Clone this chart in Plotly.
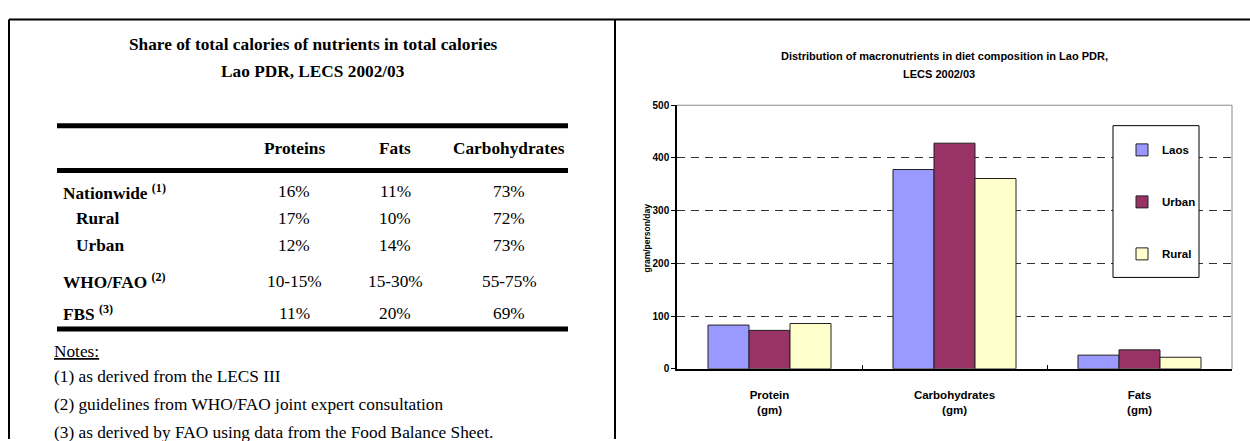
import plotly.graph_objects as go

# ---------------- data ----------------
table_title = ["Share of total calories of nutrients in total calories", "Lao PDR, LECS 2002/03"]
col_headers = ["Proteins", "Fats", "Carbohydrates"]
row_labels = ["Nationwide", "Rural", "Urban", "WHO/FAO", "FBS"]
row_refs = ["(1)", "", "", "(2)", "(3)"]
proteins_share = ["16%", "17%", "12%", "10-15%", "11%"]
fats_share = ["11%", "10%", "14%", "15-30%", "20%"]
carbs_share = ["73%", "72%", "73%", "55-75%", "69%"]
notes_title = "Notes:"
notes = [
    "(1) as derived from the LECS III",
    "(2) guidelines from WHO/FAO joint expert consultation",
    "(3) as derived by FAO using data from the Food Balance Sheet.",
]

chart_title = ["Distribution of macronutrients in diet composition in Lao PDR,", "LECS 2002/03"]
nutrients = ["Protein<br>(gm)", "Carbohydrates<br>(gm)", "Fats<br>(gm)"]
laos = [83, 378, 26]
urban = [73, 428, 36]
rural = [86, 361, 22]
y_title = "gram/person/day"

# ---------------- layout helpers ----------------
W, H = 1250, 441


def px(x):
    return x / W


def py(y):
    return 1 - y / H


SERIF = "Liberation Serif, Times New Roman, serif"
SANS = "Liberation Sans, Arial, sans-serif"
TS = 17.3  # table font size

fig = go.Figure()
series = [("Laos", laos, "#9999FF"), ("Urban", urban, "#993366"), ("Rural", rural, "#FFFFCC")]
for name, vals, col in series:
    fig.add_trace(go.Bar(
        name=name, x=nutrients, y=vals, legendgroup=name,
        marker=dict(color=col, line=dict(color="#222222", width=1)),
    ))

shapes = []
annotations = []

# outer frame
for x0, y0, x1, y1 in [(9, 14, 1250, 14), (9, 14, 9, 445), (615, 14, 615, 445)]:
    shapes.append(dict(type="line", xref="paper", yref="paper", x0=px(x0), y0=py(y0), x1=px(x1), y1=py(y1),
                       line=dict(color="black", width=2)))

# table rules
for yy in [123, 169, 332]:
    shapes.append(dict(type="line", xref="paper", yref="paper", x0=px(57), x1=px(568), y0=py(yy), y1=py(yy),
                       line=dict(color="black", width=5)))

# table title
for txt, yy in zip(table_title, [40, 67]):
    annotations.append(dict(text=f"<b>{txt}</b>", x=px(313), y=py(yy), xref="paper", yref="paper",
                            showarrow=False, xanchor="center", yanchor="middle",
                            font=dict(family=SERIF, size=TS, color="black")))

col_x = [294, 395, 509]
for txt, xx in zip(col_headers, col_x):
    annotations.append(dict(text=f"<b>{txt}</b>", x=px(xx), y=py(147), xref="paper", yref="paper",
                            showarrow=False, xanchor="center", yanchor="middle",
                            font=dict(family=SERIF, size=TS, color="black")))

row_y = [191, 218, 246, 283, 316]
row_x = [61, 74, 74, 61, 61]
for lab, ref, xx, yy in zip(row_labels, row_refs, row_x, row_y):
    t = f"<b>{lab}</b>" + (f" <b><sup>{ref}</sup></b>" if ref else "")
    annotations.append(dict(text=t, x=px(xx), y=py(yy), xref="paper", yref="paper",
                            showarrow=False, xanchor="left", yanchor="middle",
                            font=dict(family=SERIF, size=TS, color="black")))
for colvals, xx in zip([proteins_share, fats_share, carbs_share], col_x):
    for v, yy in zip(colvals, row_y):
        annotations.append(dict(text=v, x=px(xx), y=py(yy), xref="paper", yref="paper",
                                showarrow=False, xanchor="center", yanchor="middle",
                                font=dict(family=SERIF, size=TS, color="black")))

annotations.append(dict(text=f"<u>{notes_title}</u>", x=px(52), y=py(355), xref="paper", yref="paper",
                        showarrow=False, xanchor="left", yanchor="middle",
                        font=dict(family=SERIF, size=TS, color="black")))
for txt, yy in zip(notes, [381, 410, 438]):
    annotations.append(dict(text=txt, x=px(52), y=py(yy), xref="paper", yref="paper",
                            showarrow=False, xanchor="left", yanchor="middle",
                            font=dict(family=SERIF, size=TS, color="black")))

# chart title
for txt, xx, yy in zip(chart_title, [944, 939], [51, 70]):
    annotations.append(dict(text=f"<b>{txt}</b>", x=px(xx), y=py(yy), xref="paper", yref="paper",
                            showarrow=False, xanchor="center", yanchor="middle",
                            font=dict(family=SANS, size=11, color="black")))

# y axis title
annotations.append(dict(text=f"<b>{y_title}</b>", x=px(647), y=py(238), xref="paper", yref="paper",
                        showarrow=False, textangle=-90, xanchor="center", yanchor="middle",
                        font=dict(family=SANS, size=8.5, color="black")))

# plot area border (top / right, grey)
shapes.append(dict(type="line", xref="x domain", yref="y domain", x0=0, x1=1, y0=1, y1=1,
                   line=dict(color="#888888", width=1), layer="above"))
shapes.append(dict(type="line", xref="x domain", yref="y domain", x0=1, x1=1, y0=0, y1=1,
                   line=dict(color="#888888", width=1), layer="above"))
# legend box
shapes.append(dict(type="rect", xref="paper", yref="paper", x0=px(1113), x1=px(1199), y0=py(279), y1=py(123),
                   fillcolor="white", line=dict(color="black", width=1), layer="above"))

fig.update_layout(
    width=W, height=H, autosize=False,
    margin=dict(l=0, r=0, t=0, b=0, pad=0),
    paper_bgcolor="white", plot_bgcolor="white",
    barmode="group", bargap=0.335, bargroupgap=0,
    shapes=shapes, annotations=annotations,
    font=dict(family=SANS, color="black"),
    xaxis=dict(domain=[px(677), px(1232)], type="category", tickson="boundaries",
               ticks="inside", ticklen=4, tickcolor="black", showline=True, linecolor="black",
               linewidth=1.5, showgrid=False, ticklabelstandoff=15,
               tickfont=dict(family=SANS, size=11.5, color="black", weight="bold")),
    yaxis=dict(domain=[py(373), py(102)], range=[0, 500], tick0=0, dtick=100,
               ticks="outside", ticklen=4, tickcolor="black", showline=True, linecolor="black",
               linewidth=1.5, showgrid=True, gridcolor="#333333", gridwidth=1, griddash="8px,6px",
               zeroline=False,
               tickfont=dict(family=SANS, size=10, color="black", weight="bold")),
    legend=dict(x=px(1122), y=py(133), xanchor="left", yanchor="top",
                bgcolor="rgba(0,0,0,0)", borderwidth=0, traceorder="grouped",
                tracegroupgap=33, itemwidth=30, itemclick=False, itemdoubleclick=False,
                font=dict(family=SANS, size=11.5, color="black", weight="bold")),
    showlegend=True,
)

fig.write_html("out.html", config={"displayModeBar": False},
               post_script="document.body.style.margin='0';document.body.style.overflow='hidden';")
